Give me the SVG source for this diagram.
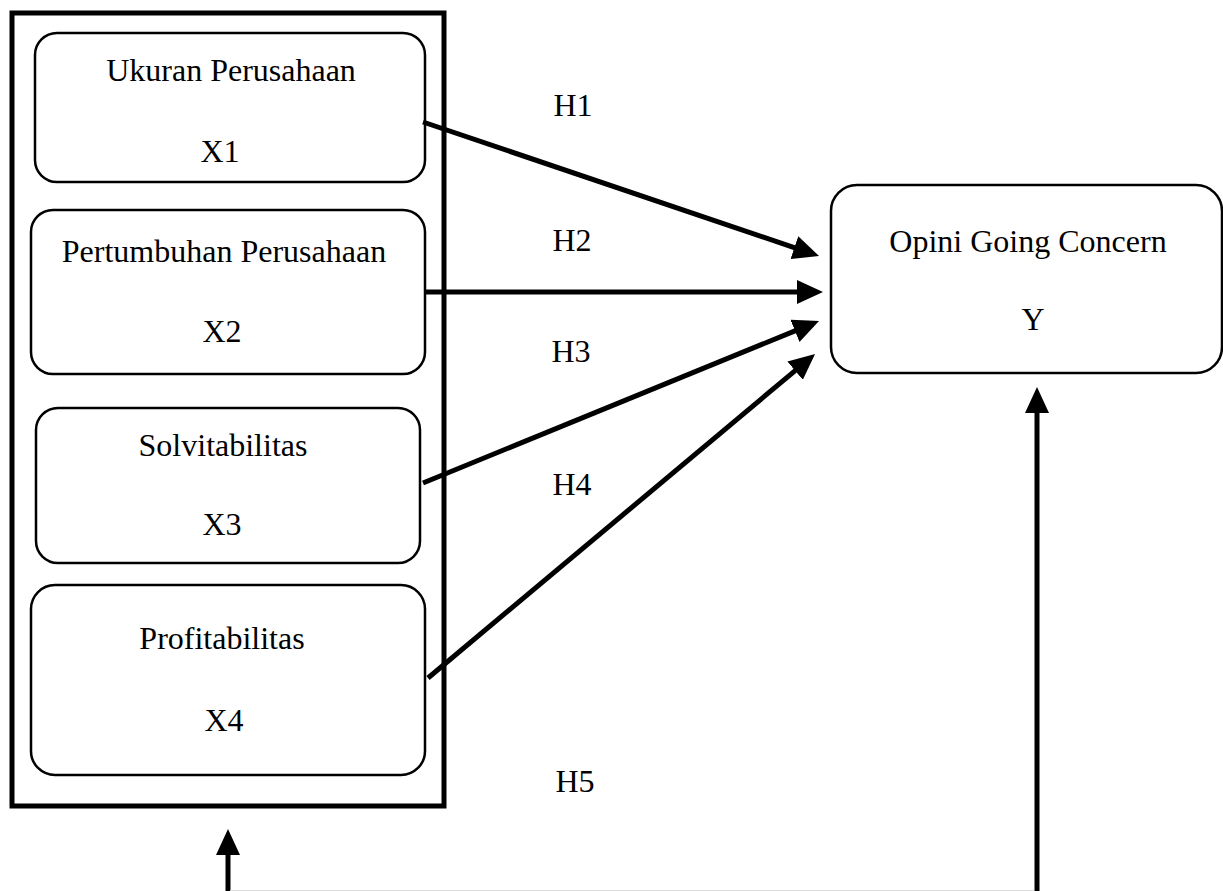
<svg xmlns="http://www.w3.org/2000/svg" width="1223" height="891" viewBox="0 0 1223 891">
  <style>
    .box { fill: #fff; stroke: #000; stroke-width: 2.5; }
    .outer { fill: none; stroke: #000; stroke-width: 5; }
    .lbl { font-family: "Liberation Serif", "Times New Roman", serif; font-size: 32px; fill: #000; text-anchor: middle; }
    .conn { stroke: #000; stroke-width: 5; fill: none; marker-end: url(#arrow); }
  </style>
  <defs>
    <marker id="arrow" markerUnits="userSpaceOnUse" markerWidth="26" markerHeight="24" refX="6" refY="12" orient="auto">
      <path d="M0,0 L26,12 L0,24 z" fill="#000"/>
    </marker>
  </defs>
  <rect width="1223" height="891" fill="#fff"/>

  <g id="outer-group">
    <rect class="outer" x="12" y="13" width="432" height="793"/>
  </g>

  <g id="x1">
    <rect class="box" x="35" y="33" width="390" height="149" rx="22"/>
    <text class="lbl" x="231" y="81">Ukuran Perusahaan</text>
    <text class="lbl" x="220" y="162">X1</text>
  </g>
  <g id="x2">
    <rect class="box" x="31" y="210" width="394" height="164" rx="22"/>
    <text class="lbl" x="224" y="262">Pertumbuhan Perusahaan</text>
    <text class="lbl" x="222" y="342">X2</text>
  </g>
  <g id="x3">
    <rect class="box" x="36" y="408" width="384" height="155" rx="22"/>
    <text class="lbl" x="223" y="456">Solvitabilitas</text>
    <text class="lbl" x="222" y="535">X3</text>
  </g>
  <g id="x4">
    <rect class="box" x="31" y="585" width="394" height="190" rx="24"/>
    <text class="lbl" x="222" y="649">Profitabilitas</text>
    <text class="lbl" x="224" y="731">X4</text>
  </g>
  <g id="y">
    <rect class="box" x="831" y="185" width="391" height="188" rx="26"/>
    <text class="lbl" x="1028" y="252">Opini Going Concern</text>
    <text class="lbl" x="1033" y="330">Y</text>
  </g>

  <g id="connectors">
    <line class="conn" x1="423" y1="122" x2="800.1" y2="249.6"/>
    <line class="conn" x1="425" y1="292" x2="803" y2="292"/>
    <line class="conn" x1="423" y1="483" x2="800.5" y2="328.6"/>
    <line class="conn" x1="428" y1="678" x2="799.7" y2="366.8"/>
    <line class="conn" x1="1037" y1="891" x2="1037" y2="407"/>
    <line class="conn" x1="228" y1="891" x2="228" y2="849"/>
    <line x1="230" y1="890.5" x2="1034" y2="890.5" stroke="#dcdcdc" stroke-width="1"/>
  </g>

  <g id="labels">
    <text class="lbl" x="573" y="116">H1</text>
    <text class="lbl" x="572" y="251">H2</text>
    <text class="lbl" x="571" y="362">H3</text>
    <text class="lbl" x="572" y="495">H4</text>
    <text class="lbl" x="575" y="792">H5</text>
  </g>
</svg>
